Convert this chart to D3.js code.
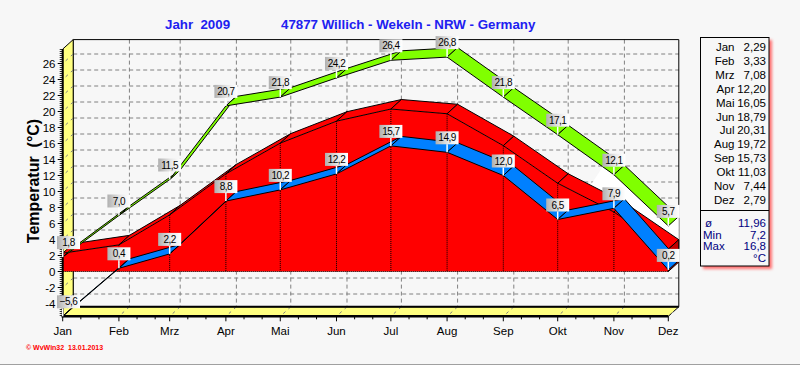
<!DOCTYPE html>
<html><head><meta charset="utf-8">
<script src="https://cdn.jsdelivr.net/npm/d3@7"></script>
<style>
html,body{margin:0;padding:0;background:#f7f7f7;}
svg{display:block;font-family:"Liberation Sans",Arial,sans-serif;}
</style></head><body>
<svg id="chart" width="800" height="366"></svg>
<script>
// ---------- data ----------
const months = ["Jan","Feb","Mrz","Apr","Mai","Jun","Jul","Aug","Sep","Okt","Nov","Dez"];
const monthDays = [0,31,59,90,120,151,181,212,243,273,304,334];
const meanTemp = [2.29,3.33,7.08,12.20,16.05,18.79,20.31,19.72,15.73,11.03,7.44,2.79];
const minTemp = [-5.6,0.4,2.2,8.8,10.2,12.2,15.7,14.9,12.0,6.5,7.9,0.2];
const maxTemp = [1.8,7.0,11.5,20.7,21.8,24.2,26.4,26.8,21.8,17.1,12.1,5.7];
const yTicks = [-4,-2,0,2,4,6,8,10,12,14,16,18,20,22,24,26];
const meanLabels = ["2,29","3,33","7,08","12,20","16,05","18,79","20,31","19,72","15,73","11,03","7,44","2,79"];
const summaryNames = ["ø","Min","Max"];
const summaryValues = ["11,96","7,2","16,8"];
const titleLeft = "Jahr  2009";
const titleRight = "47877 Willich - Wekeln - NRW - Germany";
const yTitle = "Temperatur  (°C)";
const footer = "© WvWin32  13.01.2013";

// ---------- layout ----------
const svg = d3.select("#chart");
const DX = 10.5, DY = -9.5;
const x = d3.scaleLinear().domain([0,334]).range([62.7,668.3]);
const y = d3.scaleLinear().domain([-5.6,27.8]).range([316.3,49.1]);
const fmt = v => d3.format(".1f")(v).replace(".",",");
const F = (i,v) => [x(monthDays[i]), y(v)];
const B = (i,v) => [x(monthDays[i])+DX, y(v)+DY];
const lerp = (a,b,t) => [a[0]+(b[0]-a[0])*t, a[1]+(b[1]-a[1])*t];
const poly = pts => "M" + pts.map(p=>p.join(",")).join("L") + "Z";

const X0 = x(0), X1 = x(334), YB = y(-5.6), YT = y(27.8);

svg.append("rect").attr("width",800).attr("height",366).attr("fill","#f7f7f7");

// defs
const defs = svg.append("defs");
const grad = defs.append("linearGradient").attr("id","lbl").attr("x1","0").attr("x2","1");
grad.append("stop").attr("offset","0").attr("stop-color","#b0b0b0");
grad.append("stop").attr("offset","0.55").attr("stop-color","#e8e8e8");
grad.append("stop").attr("offset","1").attr("stop-color","#ffffff");
const blur = defs.append("filter").attr("id","sh").attr("x","-10%").attr("y","-10%").attr("width","130%").attr("height","130%");
blur.append("feGaussianBlur").attr("stdDeviation","1.5");

// ---------- back plane grid ----------
const g = svg.append("g");
yTicks.forEach(v=>{
  g.append("line").attr("x1",X0+DX).attr("x2",X1+DX).attr("y1",y(v)+DY).attr("y2",y(v)+DY)
   .attr("stroke","#808080").attr("stroke-dasharray","4,3");
});
monthDays.slice(1,11).forEach(d=>{
  g.append("line").attr("x1",x(d)+DX).attr("x2",x(d)+DX).attr("y1",YT+DY).attr("y2",YB+DY)
   .attr("stroke","#808080").attr("stroke-dasharray","4,3");
});
g.append("path").attr("d",`M${X0+DX},${YB+DY}V${YT+DY}H${X1+DX}V${YB+DY}`)
  .attr("fill","none").attr("stroke","#000");

// ---------- wall & floor ----------
g.append("path").attr("d",poly([[X0,YT],[X0+DX,YT+DY],[X0+DX,YB+DY],[X0,YB]]))
  .attr("fill","#ffff80").attr("stroke","#000");
g.append("path").attr("d",poly([[X0,YB],[X0+DX,YB+DY],[X1+DX,YB+DY],[X1,YB]]))
  .attr("fill","#ffff80").attr("stroke","#000");
yTicks.forEach(v=>{
  g.append("line").attr("x1",X0).attr("y1",y(v)).attr("x2",X0+DX).attr("y2",y(v)+DY)
   .attr("stroke","#808080").attr("stroke-dasharray","3,4").attr("stroke-dashoffset","-4");
});
monthDays.slice(1).forEach(d=>{
  g.append("line").attr("x1",x(d)).attr("y1",YB).attr("x2",x(d)+DX).attr("y2",YB+DY)
   .attr("stroke","#808080").attr("stroke-dasharray","3,4").attr("stroke-dashoffset","-4");
});
g.append("line").attr("x1",X0+DX-1).attr("x2",X1+DX).attr("y1",YB+DY).attr("y2",YB+DY)
  .attr("stroke","#000").attr("stroke-width",2);

// ---------- white band under green (Nov-Dez) ----------
{
  const rOk = B(9,meanTemp[9]), rNo = B(10,meanTemp[10]), rDe = B(11,meanTemp[11]);
  const gOk = F(9,maxTemp[9]), gNo = F(10,maxTemp[10]), gDe = F(11,maxTemp[11]), gDeB = B(11,maxTemp[11]);
  g.append("path").attr("d",poly([lerp(rOk,rNo,0.4), lerp(gOk,gNo,0.8), gNo, gDe, gDeB, rDe, rNo]))
   .attr("fill","#ffffff");
}

// ---------- red mean area (3D) ----------
const red = svg.append("g");
const frontPts = meanTemp.map((v,i)=>F(i,v));
red.append("path").attr("d",poly([...frontPts, [x(334),y(0)], [x(0),y(0)]]))
  .attr("fill","#ff0000");
for(let i=0;i<11;i++){
  red.append("path").attr("d",poly([F(i,meanTemp[i]),F(i+1,meanTemp[i+1]),B(i+1,meanTemp[i+1]),B(i,meanTemp[i])]))
   .attr("fill","#ff0000").attr("stroke","#000").attr("stroke-width",1);
}
red.append("path").attr("d",poly([F(11,meanTemp[11]),B(11,meanTemp[11]),B(11,0),F(11,0)]))
  .attr("fill","#c00000").attr("stroke","#000");
meanTemp.forEach((v,i)=>{
  red.append("line").attr("x1",x(monthDays[i])).attr("x2",x(monthDays[i])).attr("y1",y(v)).attr("y2",y(0))
   .attr("stroke","#000").attr("stroke-dasharray","1,1");
});
red.append("line").attr("x1",X0).attr("x2",X1).attr("y1",y(0)).attr("y2",y(0))
  .attr("stroke","#000").attr("stroke-dasharray","1,1");

// ---------- ribbons ----------
function ribbon(data,color){
  const rg = svg.append("g");
  for(let i=0;i<data.length-1;i++){
    rg.append("path").attr("d",poly([F(i,data[i]),F(i+1,data[i+1]),B(i+1,data[i+1]),B(i,data[i])]))
      .attr("fill",color).attr("stroke","#000").attr("stroke-width",1);
  }
}
ribbon(minTemp,"#0080ff");
ribbon(maxTemp,"#80ff00");

// ---------- axes ----------
const ax = svg.append("g");
ax.append("line").attr("x1",X0).attr("x2",X0).attr("y1",YT).attr("y2",YB+1).attr("stroke","#000").attr("stroke-width",2);
ax.append("line").attr("x1",X0-1).attr("x2",X1).attr("y1",YB).attr("y2",YB).attr("stroke","#000").attr("stroke-width",2.5);
d3.range(-5.5,27.8,0.25).forEach(v=>{
  ax.append("line").attr("x1",X0-3).attr("x2",X0).attr("y1",y(v)).attr("y2",y(v)).attr("stroke","#000").attr("stroke-width",0.8);
});
yTicks.forEach(v=>{
  ax.append("line").attr("x1",X0-5).attr("x2",X0).attr("y1",y(v)).attr("y2",y(v)).attr("stroke","#000");
  ax.append("text").attr("x",55.5).attr("y",y(v)).attr("dy","0.36em").attr("text-anchor","end")
    .attr("font-size","11.5px").attr("fill","#000").text(v);
});
monthDays.forEach((d,i)=>{
  ax.append("line").attr("x1",x(d)).attr("x2",x(d)).attr("y1",YB).attr("y2",YB+5).attr("stroke","#000");
  [10,20].forEach(k=>{ if(d+k<334) ax.append("line").attr("x1",x(d+k)).attr("x2",x(d+k)).attr("y1",YB).attr("y2",YB+3).attr("stroke","#000"); });
  ax.append("text").attr("x",x(d)).attr("y",335).attr("text-anchor","middle")
    .attr("font-size","11.5px").attr("fill","#000").text(months[i]);
});

// ---------- value labels ----------
function labels(data){
  const lg = svg.append("g");
  data.forEach((v,i)=>{
    const [px,py] = F(i,v);
    const w = 23, h = 13, by = py - 8;
    const bx = Math.max(px - w/2, 57);
    lg.append("rect").attr("x",bx).attr("y",by-h).attr("width",w).attr("height",h).attr("fill","url(#lbl)");
    lg.append("line").attr("x1",px).attr("x2",px).attr("y1",by).attr("y2",py).attr("stroke","#fff").attr("stroke-width",1.5);
    lg.append("text").attr("x",bx + w/2).attr("y",by-3).attr("text-anchor","middle")
      .attr("font-size","10px").attr("letter-spacing","-0.5px").attr("fill","#000").text(fmt(v));
  });
}
labels(minTemp);
labels(maxTemp);

// ---------- titles ----------
svg.append("text").attr("x",165).attr("y",29).attr("font-size","13.3px").attr("font-weight","bold")
  .attr("fill","#2020f0").style("white-space","pre").text(titleLeft);
svg.append("text").attr("x",281).attr("y",29).attr("font-size","13.3px").attr("font-weight","bold")
  .attr("fill","#2020f0").text(titleRight);
svg.append("text").attr("transform","translate(39,181) rotate(-90)").attr("text-anchor","middle")
  .attr("font-size","16px").attr("font-weight","bold").attr("fill","#000").style("white-space","pre").text(yTitle);
svg.append("text").attr("x",26).attr("y",350).attr("font-size","7px").attr("font-weight","bold")
  .attr("fill","#ff0000").style("white-space","pre").text(footer);

// ---------- legend ----------
const lgd = svg.append("g");
lgd.append("rect").attr("x",703).attr("y",40).attr("width",69).attr("height",229).attr("fill","#ff7070").attr("filter","url(#sh)");
lgd.append("rect").attr("x",700.5).attr("y",37.5).attr("width",68.5).attr("height",228.5).attr("fill","#f7f7f7").attr("stroke","#000");
lgd.append("line").attr("x1",700.5).attr("x2",769).attr("y1",210.5).attr("y2",210.5).attr("stroke","#000");
months.forEach((m,i)=>{
  const yy = 46.7 + 13.94*i;
  lgd.append("text").attr("x",734.5).attr("y",yy).attr("dy","0.36em").attr("text-anchor","end").attr("font-size","11.5px").attr("fill","#000").text(m);
  lgd.append("text").attr("x",766).attr("y",yy).attr("dy","0.36em").attr("text-anchor","end").attr("font-size","11.5px").attr("fill","#000").text(meanLabels[i]);
});
summaryNames.forEach((n,i)=>{
  const yy = 222.7 + 11.7*i;
  lgd.append("text").attr("x", i===0 ? 708.5 : 703).attr("y",yy).attr("dy","0.36em")
    .attr("text-anchor", i===0 ? "middle" : "start").attr("font-size","11.5px").attr("fill","#000080").text(n);
  lgd.append("text").attr("x",766).attr("y",yy).attr("dy","0.36em").attr("text-anchor","end").attr("font-size","11.5px").attr("fill","#000080").text(summaryValues[i]);
});
lgd.append("text").attr("x",766).attr("y",257.5).attr("dy","0.36em").attr("text-anchor","end").attr("font-size","11.5px").attr("fill","#000080").text("°C");

// frame
svg.append("line").attr("x1",0).attr("x2",800).attr("y1",364.5).attr("y2",364.5).attr("stroke","#a0a0a0");
svg.append("line").attr("x1",0).attr("x2",800).attr("y1",365.5).attr("y2",365.5).attr("stroke","#ffffff");
</script></body></html>
